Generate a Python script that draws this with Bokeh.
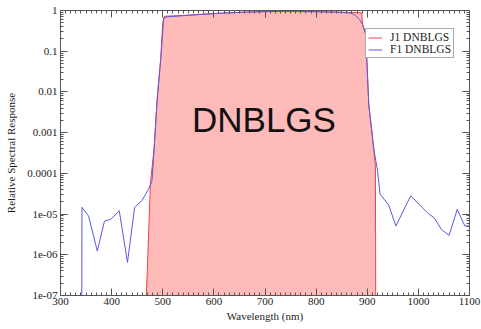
from bokeh.plotting import figure
from bokeh.models import (LinearAxis, LogAxis, FixedTicker,
                          CustomJSTickFormatter, Legend, LegendItem, Label, Range1d)
from bokeh.embed import file_html
from bokeh.resources import INLINE

# ---- data ----
f1_wl = [341, 342, 355, 372, 386, 398, 415, 431, 445, 460, 473, 479, 483, 489, 496, 502,
         510, 550, 600, 650, 700, 750, 800, 850, 868, 877, 885, 891, 897, 903, 913, 920,
         925, 942, 956, 985, 1019, 1031, 1045, 1060, 1076, 1091, 1099]
f1_resp = [1e-10, 1.46e-5, 8.9e-6, 1.23e-6, 6.7e-6, 7.4e-6, 1.2e-5, 6.5e-7, 1.47e-5, 2.2e-5,
           4.3e-5, 6.6e-5, 3.8e-4, 6.4e-3, 0.062, 0.66,
           0.70, 0.76, 0.84, 0.90, 0.94, 0.95, 0.93, 0.90, 0.86, 0.76, 0.60, 0.45, 0.26,
           4.8e-3, 3.8e-4, 1.2e-4,
           3.1e-5, 1.66e-5, 5.1e-6, 2.8e-5, 1.04e-5, 8.1e-6, 4.2e-6, 3.0e-6, 1.3e-5, 5.1e-6, 5.1e-6]

j1_wl = [467, 468, 476, 483, 489, 496, 500, 503, 550, 600, 650, 700, 750, 800, 850, 880,
         889, 891, 897, 903, 913, 916, 917]
j1_resp = [1e-10, 1e-7, 6e-5, 4e-4, 6.5e-3, 0.065, 0.5, 0.72, 0.77, 0.84, 0.90, 0.94, 0.95,
           0.94, 0.91, 0.89, 0.88, 0.45, 0.26, 4.8e-3, 3.8e-4, 1.5e-4, 1e-10]

x_ticks = [300, 400, 500, 600, 700, 800, 900, 1000, 1100]
y_ticks = [1e-7, 1e-6, 1e-5, 1e-4, 1e-3, 1e-2, 1e-1, 1]
y_tick_labels = ["1e-07", "1e-06", "1e-05", "0.0001", "0.001", "0.01", "0.1", "1"]
y_minor = [k * t for t in y_ticks[:-1] for k in range(2, 10)]
x_minor = list(range(300, 1101, 10))

series_names = ["J1 DNBLGS", "F1 DNBLGS"]
band_name = "DNBLGS"

SERIF = "Liberation Serif"
AXC = "#555555"

p = figure(width=481, height=329, y_axis_type="log", output_backend="svg",
           toolbar_location=None, x_range=Range1d(300, 1100), y_range=Range1d(1e-7, 1),
           min_border_left=60, min_border_right=12, min_border_top=10, min_border_bottom=34)
p.background_fill_color = "white"
p.border_fill_color = "white"
p.outline_line_color = AXC
p.grid.visible = False

fill = p.varea(x=j1_wl, y1=1e-12, y2=j1_resp, fill_color="#ffbaba", fill_alpha=1.0)
r_j1 = p.line(j1_wl, j1_resp, line_color="#ee4444", line_width=1)
r_f1 = p.line(f1_wl, f1_resp, line_color="#5a5ae0", line_width=1)

yfmt = CustomJSTickFormatter(args=dict(tvals=y_ticks, tlabels=y_tick_labels), code="""
const i = tvals.findIndex(t => Math.abs(Math.log10(t) - Math.log10(tick)) < 1e-6);
return i >= 0 ? tlabels[i] : "";
""")

def style_axis(ax, show_labels):
    ax.axis_line_color = AXC
    ax.major_tick_line_color = AXC
    ax.minor_tick_line_color = AXC
    ax.major_tick_in = 7
    ax.major_tick_out = 0
    ax.minor_tick_in = 3
    ax.minor_tick_out = 0
    ax.major_label_text_font = SERIF
    ax.major_label_text_color = "#222222"
    ax.major_label_text_font_size = "11px"
    ax.axis_label_text_font = SERIF
    ax.axis_label_text_font_style = "normal"
    ax.axis_label_text_color = "#222222"
    ax.axis_label_text_font_size = "11px"
    if not show_labels:
        ax.formatter = CustomJSTickFormatter(code="return '';")
        ax.major_label_text_font_size = "2px"
        ax.major_label_standoff = 0

xb = p.xaxis[0]
xb.ticker = FixedTicker(ticks=x_ticks, minor_ticks=x_minor)
style_axis(xb, True)
xb.axis_label = "Wavelength (nm)"
xb.major_label_standoff = 2
xb.axis_label_standoff = 2

yl = p.yaxis[0]
yl.ticker = FixedTicker(ticks=y_ticks, minor_ticks=y_minor)
yl.formatter = yfmt
style_axis(yl, True)
yl.axis_label = "Relative Spectral Response"
yl.major_label_standoff = 3
yl.axis_label_standoff = 7

xt = LinearAxis(ticker=FixedTicker(ticks=x_ticks, minor_ticks=x_minor))
style_axis(xt, False)
p.add_layout(xt, "above")
yr = LogAxis(ticker=FixedTicker(ticks=y_ticks, minor_ticks=y_minor))
style_axis(yr, False)
p.add_layout(yr, "right")

legend = Legend(items=[LegendItem(label=series_names[0], renderers=[r_j1]),
                       LegendItem(label=series_names[1], renderers=[r_f1])],
                location=(305, 237))
legend.label_text_font = SERIF
legend.label_text_font_size = "11.5px"
legend.label_text_color = "#222222"
legend.label_height = 11
legend.glyph_height = 11
legend.glyph_width = 14
legend.label_standoff = 8
legend.padding = 2
legend.spacing = 0
legend.margin = 0
legend.border_line_color = AXC
legend.border_line_width = 1
legend.background_fill_alpha = 1.0
p.add_layout(legend)

lab = Label(x=698, y=2.1e-3, text=band_name, text_font="Liberation Sans", text_font_size="35px",
            text_align="center", text_baseline="alphabetic", text_color="#111111")
p.add_layout(lab)

open("out.html", "w").write(file_html(p, INLINE))
